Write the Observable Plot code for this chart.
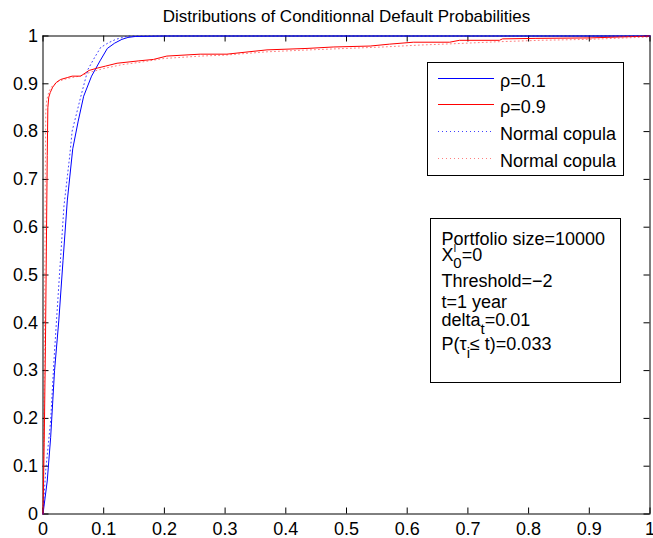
<!DOCTYPE html>
<html><head><meta charset="utf-8">
<script src="https://cdn.jsdelivr.net/npm/d3@7"></script>
<script src="https://cdn.jsdelivr.net/npm/@observablehq/plot@0.6"></script>
<style>
body{margin:0;background:#fff;}
#chart{width:653px;height:538px;}
svg{display:block;}
</style></head><body><div id="chart"></div>
<script>
const titleText = "Distributions of Conditionnal Default Probabilities";
const xTicks = [0,0.1,0.2,0.3,0.4,0.5,0.6,0.7,0.8,0.9,1];
const yTicks = [0,0.1,0.2,0.3,0.4,0.5,0.6,0.7,0.8,0.9,1];
const xTickLabels = ["0","0.1","0.2","0.3","0.4","0.5","0.6","0.7","0.8","0.9","1"];
const yTickLabels = ["0","0.1","0.2","0.3","0.4","0.5","0.6","0.7","0.8","0.9","1"];

// rho = 0.1 (solid blue)
const rho01X = [0,0.007,0.0126,0.019,0.026,0.033,0.04,0.049,0.058,0.067,0.08,0.094,0.106,0.118,0.13,0.14,0.152,0.2,1];
const rho01Y = [0,0.069,0.16,0.30,0.404,0.53,0.655,0.764,0.822,0.874,0.916,0.948,0.974,0.985,0.993,0.997,0.999,1,1];
// rho = 0.9 (solid red)
const rho09X = [0,0.002,0.004,0.0055,0.007,0.008,0.0095,0.012,0.016,0.022,0.029,0.04,0.048,0.062,0.076,0.09,0.103,0.122,0.158,0.182,0.204,0.259,0.303,0.369,0.435,0.478,0.539,0.571,0.61,0.67,0.686,0.752,0.757,0.812,0.9,0.993,1];
const rho09Y = [0,0.15,0.35,0.55,0.75,0.85,0.872,0.882,0.893,0.903,0.909,0.913,0.916,0.916,0.928,0.933,0.937,0.943,0.948,0.951,0.958,0.962,0.962,0.971,0.974,0.977,0.979,0.983,0.987,0.987,0.991,0.991,0.994,0.995,0.996,0.9996,1];
// Normal copula, rho = 0.1 (dotted blue)
const norm01X = [0,0.0044,0.0126,0.018,0.022,0.0345,0.044,0.048,0.062,0.074,0.085,0.095,0.108,0.12,0.14,1];
const norm01Y = [0,0.09,0.195,0.32,0.40,0.644,0.749,0.801,0.872,0.93,0.955,0.976,0.986,0.993,1,1];
// Normal copula, rho = 0.9 (dotted red)
const norm09X = [0,0.0015,0.003,0.004,0.0045,0.006,0.01,0.015,0.025,0.04,0.06,0.08,0.1,0.13,0.16,0.2,0.26,0.3,0.37,0.44,0.5,0.56,0.62,0.68,0.75,0.82,0.9,0.96,1];
const norm09Y = [0,0.2,0.5,0.75,0.84,0.865,0.885,0.895,0.905,0.911,0.916,0.925,0.932,0.94,0.945,0.953,0.958,0.96,0.967,0.971,0.974,0.977,0.981,0.984,0.988,0.991,0.993,0.996,0.998];

const legendLabels = ["ρ=0.1","ρ=0.9","Normal copula","Normal copula"];

const W = 653, H = 538, mL = 42.5, mR = 3.5, mT = 35.5, mB = 24.5;
const plotW = W - mL - mR, plotH = H - mT - mB;
const tickLen = 6;
const font = "'Liberation Sans', Arial, Helvetica, sans-serif";

const series = [
  {xs: rho01X, ys: rho01Y, stroke: "#0000ff", dash: null, op: 1},
  {xs: rho09X, ys: rho09Y, stroke: "#ff0000", dash: null, op: 1},
  {xs: norm01X, ys: norm01Y, stroke: "#0000ff", dash: "1,3", op: 0.75},
  {xs: norm09X, ys: norm09Y, stroke: "#ff0000", dash: "1,3", op: 0.5}
];
const toPts = s => s.xs.map((x, i) => ({x, y: s.ys[i]}));

const tx = tickLen / plotH, ty = tickLen / plotW;

const marks = [
  Plot.frame({stroke: "black"}),
  Plot.ruleX(xTicks, {x: d => d, y1: 0, y2: tx, stroke: "black"}),
  Plot.ruleX(xTicks, {x: d => d, y1: 1, y2: 1 - tx, stroke: "black"}),
  Plot.ruleY(yTicks, {y: d => d, x1: 0, x2: ty, stroke: "black"}),
  Plot.ruleY(yTicks, {y: d => d, x1: 1, x2: 1 - ty, stroke: "black"}),
  Plot.axisX({ticks: xTicks, tickFormat: (d, i) => xTickLabels[i], tickSize: 0, tickPadding: 8, label: null, fontSize: 18}),
  Plot.axisY({ticks: yTicks, tickFormat: (d, i) => yTickLabels[i], tickSize: 0, tickPadding: 5, label: null, fontSize: 18}),
  ...series.map(s =>
    Plot.line(toPts(s), {x: "x", y: "y", stroke: s.stroke, strokeWidth: 1, strokeOpacity: s.op, strokeDasharray: s.dash ?? undefined, curve: "linear"})),
  Plot.text([titleText], {text: d => d, frameAnchor: "top", lineAnchor: "bottom", dy: -14, fontSize: 17, fill: "black"})
];

const chart = Plot.plot({
  width: W, height: H,
  marginLeft: mL, marginRight: mR, marginTop: mT, marginBottom: mB,
  x: {domain: [0, 1]},
  y: {domain: [0, 1]},
  style: {fontFamily: font, fontSize: "18px", color: "black", background: "white", overflow: "visible"},
  marks
});
document.getElementById("chart").appendChild(chart);

const svg = d3.select(chart);
const g = svg.append("g").attr("font-family", font).attr("font-size", 18)
  .attr("fill", "black").attr("text-anchor", "start");

// Legend
g.append("rect").attr("x", 427.5).attr("y", 62.5).attr("width", 196).attr("height", 113)
  .attr("fill", "white").attr("stroke", "black");
const rowLineY = [78.5, 104.5, 131.5, 158.5];
series.forEach((s, i) => {
  g.append("line").attr("x1", 438).attr("x2", 494).attr("y1", rowLineY[i]).attr("y2", rowLineY[i])
    .attr("stroke", s.stroke).attr("stroke-width", 1).attr("stroke-opacity", s.op)
    .attr("stroke-dasharray", s.dash);
  g.append("text").attr("x", 500).attr("y", rowLineY[i] + 8).text(legendLabels[i]);
});

// Annotation box
g.append("rect").attr("x", 430.5).attr("y", 218.5).attr("width", 190).attr("height", 164)
  .attr("fill", "white").attr("stroke", "black");
const ax = 441.5;
g.append("text").attr("x", ax).attr("y", 245).text("Portfolio size=10000");
{
  const t = g.append("text").attr("x", ax).attr("y", 261);
  t.append("tspan").text("X");
  t.append("tspan").attr("font-size", 10).attr("dy", -9).text("I");
  t.append("tspan").attr("font-size", 15).attr("dx", -3).attr("dy", 16).text("0");
  t.append("tspan").attr("dy", -7).text("=0");
}
g.append("text").attr("x", ax).attr("y", 287).text("Threshold=−2");
g.append("text").attr("x", ax).attr("y", 308).text("t=1 year");
{
  const t = g.append("text").attr("x", ax).attr("y", 326);
  t.append("tspan").text("delta");
  t.append("tspan").attr("font-size", 15).attr("dy", 8).text("t");
  t.append("tspan").attr("dy", -8).text("=0.01");
}
{
  const t = g.append("text").attr("x", ax).attr("y", 350);
  t.append("tspan").text("P(τ");
  t.append("tspan").attr("font-size", 15).attr("dy", 8).text("i");
  t.append("tspan").attr("dy", -8).text("≤ t)=0.033");
}
</script></body></html>
